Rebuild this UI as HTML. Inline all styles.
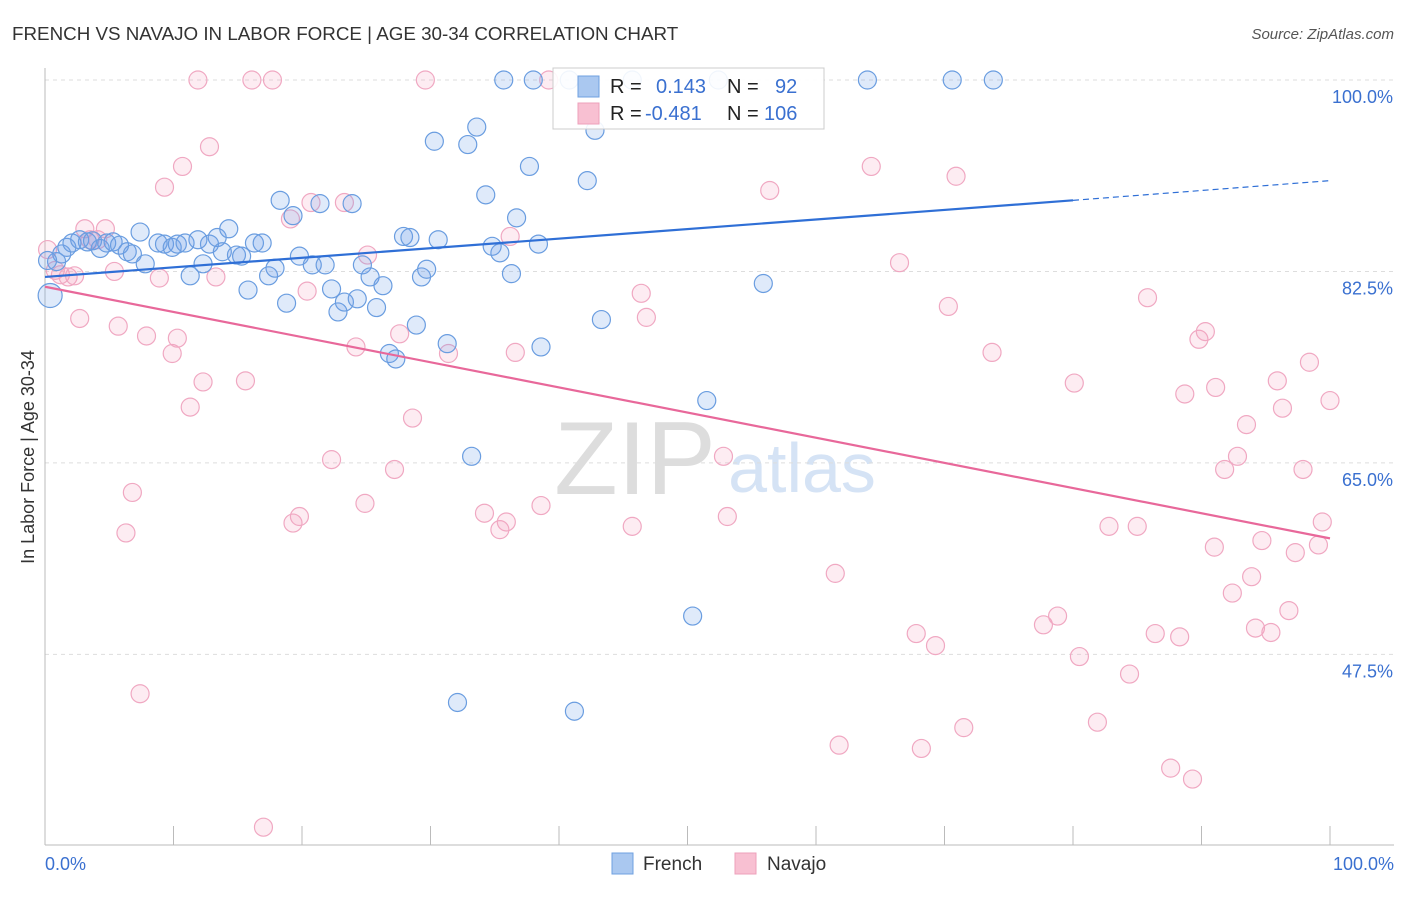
<!DOCTYPE html>
<html><head><meta charset="utf-8">
<style>
body{margin:0;background:#fff;font-family:"Liberation Sans",sans-serif;}
svg text{font-family:"Liberation Sans",sans-serif;}
</style></head>
<body>
<svg id="chart" width="1406" height="892" viewBox="0 0 1406 892" xmlns="http://www.w3.org/2000/svg">
<text x="12" y="40" font-size="18.8" fill="#333">FRENCH VS NAVAJO IN LABOR FORCE | AGE 30-34 CORRELATION CHART</text>
<text x="1394" y="39" font-size="15" fill="#555" font-style="italic" text-anchor="end">Source: ZipAtlas.com</text>
<text x="635" y="494" font-size="104" fill="#ddd" font-family="Liberation Serif,serif" text-anchor="middle">ZIP</text>
<text x="802" y="492" font-size="70" fill="#d5e3f5" text-anchor="middle">atlas</text>
<text transform="translate(34,457) rotate(-90)" font-size="18" fill="#333" text-anchor="middle">In Labor Force | Age 30-34</text>
<g id="grid"></g>
<g id="pts"></g>
<g id="trend"></g>
<g>
<rect x="553" y="68" width="271" height="61" fill="#fff" fill-opacity="0.9" stroke="#ccc"/>
<rect x="578" y="76" width="21" height="21" fill="#aac8f0" stroke="#6fa0e0"/>
<rect x="578" y="103" width="21" height="21" fill="#f8c0d2" stroke="#eea0bb"/>
<text x="610" y="93" font-size="20" fill="#222">R = <tspan fill="#3a70d0" x="656">0.143</tspan><tspan fill="#222" x="727">N =</tspan><tspan fill="#3a70d0" x="775">92</tspan></text>
<text x="610" y="120" font-size="20" fill="#222">R = <tspan fill="#3a70d0" x="645">-0.481</tspan><tspan fill="#222" x="727">N =</tspan><tspan fill="#3a70d0" x="764">106</tspan></text>
</g>
<g>
<rect x="612" y="853" width="21" height="21" fill="#aac8f0" stroke="#6fa0e0"/>
<text x="643" y="870" font-size="19" fill="#333">French</text>
<rect x="735" y="853" width="21" height="21" fill="#f8c0d2" stroke="#eea0bb"/>
<text x="767" y="870" font-size="19" fill="#333">Navajo</text>
</g>
</svg>
<script>
const yTicks=[100,82.5,65,47.5];
const yTickLabels=["100.0%","82.5%","65.0%","47.5%"];
const xTickCount=10;
const xAxisLabels=["0.0%","100.0%"];
const frenchX=[0.4,0.9,1.3,1.7,2.1,2.7,3.3,3.7,4.3,4.8,5.3,5.8,6.4,6.8,7.4,7.8,8.8,9.3,9.9,10.3,10.9,11.3,11.9,12.3,12.8,13.4,13.8,14.3,14.9,15.3,15.8,16.3,16.9,17.4,17.9,18.3,18.8,19.3,19.8,20.8,21.4,21.8,22.3,22.8,23.3,23.9,24.3,24.7,25.3,25.8,26.3,26.8,27.3,27.9,28.4,28.9,29.3,29.7,30.3,30.6,31.3,32.1,32.9,33.2,33.6,34.3,34.8,35.4,35.7,36.3,36.7,37.7,38.0,38.4,38.6,40.8,41.2,42.2,42.8,43.3,45.7,50.4,51.5,52.4,55.9,64.0,70.6,73.8,0.2];
const frenchY=[80.3,83.4,84.1,84.7,85.1,85.4,85.2,85.3,84.6,85.1,85.2,84.9,84.3,84.1,86.1,83.2,85.1,85.0,84.7,85.0,85.1,82.1,85.4,83.2,85.0,85.6,84.3,86.4,84.0,83.9,80.8,85.1,85.1,82.1,82.8,89.0,79.6,87.6,83.9,83.1,88.7,83.1,80.9,78.8,79.7,88.7,80.0,83.1,82.0,79.2,81.2,75.0,74.5,85.7,85.6,77.6,82.0,82.7,94.4,85.4,75.9,43.1,94.1,65.6,95.7,89.5,84.8,84.2,100,82.3,87.4,92.1,100,85.0,75.6,100,42.3,90.8,95.4,78.1,100,51.0,70.7,100,81.4,100,100,100,83.5];
const navajoX=[0.2,0.8,1.2,1.8,2.3,2.7,3.1,3.5,4.1,4.7,5.4,5.7,6.3,6.8,7.4,7.9,8.9,9.3,9.9,10.3,10.7,11.3,11.9,12.3,12.8,13.3,15.6,16.1,17.0,17.7,19.1,19.3,19.8,20.4,20.7,22.3,23.3,24.2,24.9,25.1,27.2,27.6,28.6,29.6,31.4,34.2,35.4,35.9,36.2,36.6,38.6,39.2,45.7,46.4,46.8,52.8,53.1,56.4,61.5,61.8,64.3,66.5,67.8,68.2,69.3,70.3,70.9,71.5,73.7,77.7,78.8,80.1,80.5,81.9,82.8,84.4,85.0,85.8,86.4,87.6,88.3,88.7,89.3,89.8,90.3,91.0,91.1,91.8,92.4,92.8,93.5,93.9,94.2,94.7,95.4,95.9,96.3,96.8,97.3,97.9,98.4,99.1,99.4,100];
const navajoY=[84.5,82.6,82.2,82.0,82.1,78.2,86.4,85.4,85.4,86.4,82.5,77.5,58.6,62.3,43.9,76.6,81.9,90.2,75.0,76.4,92.1,70.1,100,72.4,93.9,82.0,72.5,100,31.7,100,87.3,59.5,60.1,80.7,88.8,65.3,88.8,75.6,61.3,84.0,64.4,76.8,69.1,100,75.0,60.4,58.9,59.6,85.7,75.1,61.1,100,59.2,80.5,78.3,65.6,60.1,89.9,54.9,39.2,92.1,83.3,49.4,38.9,48.3,79.3,91.2,40.8,75.1,50.2,51.0,72.3,47.3,41.3,59.2,45.7,59.2,80.1,49.4,37.1,49.1,71.3,36.1,76.3,77.0,57.3,71.9,64.4,53.1,65.6,68.5,54.6,49.9,57.9,49.5,72.5,70.0,51.5,56.8,64.4,74.2,57.5,59.6,70.7];
const frenchTrend=[82.0,89.0,90.8]; // at x=0, 80, 100
const navajoTrend=[81.1,58.1]; // at x=0, 100

const X0=45,X1=1330,Y0=845.8,Y1=80;
const xs=v=>X0+(X1-X0)*v/100;
const ys=v=>Y0+(Y1-Y0)*(v-30)/70;
const NS="http://www.w3.org/2000/svg";
function mk(tag,attrs,parent){const e=document.createElementNS(NS,tag);for(const k in attrs)e.setAttribute(k,attrs[k]);parent.appendChild(e);return e;}
const grid=document.getElementById('grid');
yTicks.forEach((t,i)=>{
 const l=mk('line',{x1:X0,x2:1394,y1:ys(t),y2:ys(t),stroke:'#ddd','stroke-dasharray':'4,4'},grid);
 
 
 const tx=mk('text',{x:1393,y:ys(t)+23,'font-size':18,fill:'#3a70d0','text-anchor':'end'},grid);
 tx.textContent=yTickLabels[i];
 
 
});
const ax=mk('line',{x1:X0,x2:1394,y1:845,y2:845,stroke:'#bbb'},grid);


const ay=mk('line',{x1:X0,x2:X0,y1:68,y2:845,stroke:'#bbb'},grid);


for(let i=0;i<=xTickCount;i++){
 const t=mk('line',{x1:xs(i*10),x2:xs(i*10),y1:826,y2:845,stroke:'#bbb'},grid);
 
 
}
const xl0=mk('text',{x:45,y:870,'font-size':18,fill:'#3a70d0'},grid);xl0.textContent=xAxisLabels[0];


const xl1=mk('text',{x:1394,y:870,'font-size':18,fill:'#3a70d0','text-anchor':'end'},grid);xl1.textContent=xAxisLabels[1];



const pts=document.getElementById('pts');
navajoX.forEach((x,i)=>{
 const c=mk('circle',{cx:xs(x),cy:ys(navajoY[i]),r:9,fill:'rgba(244,160,190,0.2)',stroke:'#f0a8c2','stroke-width':1.2},pts);
 
 
});
frenchX.forEach((x,i)=>{
 const c=mk('circle',{cx:xs(x),cy:ys(frenchY[i]),r:i===0?12:9,fill:'rgba(110,160,230,0.22)',stroke:'#6a9de0','stroke-width':1.2},pts);
 
 
});
const tr=document.getElementById('trend');
const b1=mk('line',{x1:xs(0),y1:ys(frenchTrend[0]),x2:xs(80),y2:ys(frenchTrend[1]),stroke:'#2f6fd6','stroke-width':2.2},tr);


const b2=mk('line',{x1:xs(80),y1:ys(frenchTrend[1]),x2:xs(100),y2:ys(frenchTrend[2]),stroke:'#2f6fd6','stroke-width':1.2,'stroke-dasharray':'6,4'},tr);


const p1=mk('line',{x1:xs(0),y1:ys(navajoTrend[0]),x2:xs(100),y2:ys(navajoTrend[1]),stroke:'#e8689a','stroke-width':2.2},tr);


</script>
</body></html>
